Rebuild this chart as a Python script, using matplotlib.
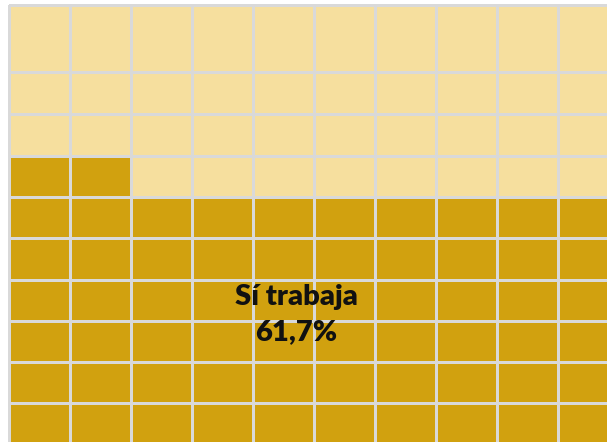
import numpy as np
import matplotlib.pyplot as plt
from matplotlib.colors import ListedColormap

# données
etiquette = "Sí trabaja"
pourcentage = 61.7
n_colonnes = 10
n_lignes = 10

COULEUR_OUI = "#D1A10F"
COULEUR_RESTE = "#F6DF9E"
COULEUR_GRILLE = "#D9D9D9"

# grille façon tableur (la première ligne est plus haute)
bords_x = 9 + 61 * np.arange(n_colonnes + 1)
bords_y = np.array([5, 72, 114, 156, 197, 238, 280, 321, 362, 403, 444])


def matrice_cases(pct):
    n_pleines = int(round(pct))
    cases = np.zeros(n_lignes * n_colonnes)
    cases[:n_pleines] = 1
    # remplissage depuis le bas, de gauche à droite
    cases = cases.reshape(n_lignes, n_colonnes)[::-1]
    return cases


fig = plt.figure(figsize=(6.07, 4.42), dpi=100)
ax = fig.add_axes([0, 0, 1, 1])
ax.pcolormesh(bords_x, bords_y, matrice_cases(pourcentage),
              cmap=ListedColormap([COULEUR_RESTE, COULEUR_OUI]), vmin=0, vmax=1,
              edgecolors=COULEUR_GRILLE, linewidth=2)
ax.set_xlim(0, 607)
ax.set_ylim(442, 0)
ax.axis("off")

police = dict(ha="center", va="center", fontsize=21, fontweight="heavy",
              family=["Lato", "DejaVu Sans"], color="#111111")
ax.text(296, 297, etiquette, **police)
ax.text(296, 332, ("%.1f" % pourcentage).replace(".", ",") + "%", **police)

fig.savefig("out.png", dpi=100, facecolor="white")
